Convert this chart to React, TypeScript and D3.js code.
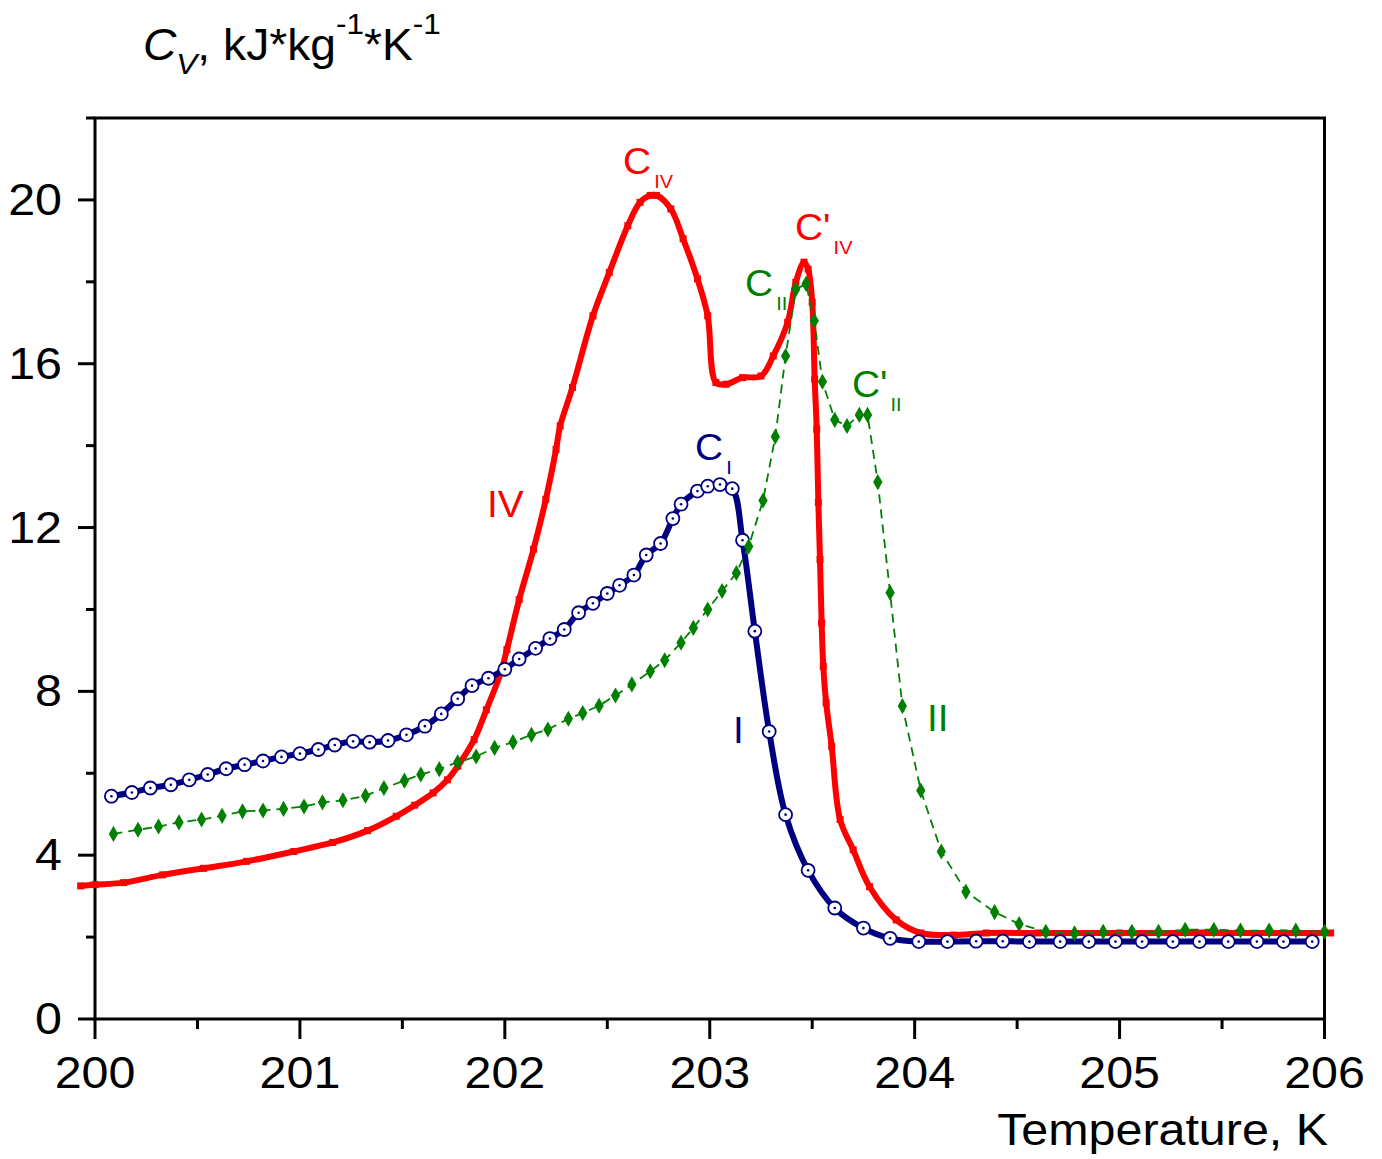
import React, { useEffect, useRef } from "react";
import * as d3 from "d3";

// Cv(T) curves, [temperature K, Cv kJ/(kg K)]
const seriesI: [number, number][] = [
  [200.08, 5.44], [200.18, 5.53], [200.27, 5.64], [200.37, 5.72], [200.46, 5.84], [200.55, 5.97],
  [200.64, 6.11], [200.73, 6.21], [200.82, 6.3], [200.91, 6.4], [201.0, 6.48], [201.09, 6.58],
  [201.17, 6.69], [201.26, 6.78], [201.34, 6.76], [201.43, 6.8], [201.52, 6.94], [201.61, 7.15],
  [201.69, 7.45], [201.77, 7.82], [201.84, 8.14], [201.92, 8.32], [202.0, 8.54], [202.07, 8.79],
  [202.15, 9.05], [202.22, 9.29], [202.29, 9.51], [202.36, 9.92], [202.43, 10.15], [202.5, 10.39],
  [202.56, 10.59], [202.63, 10.84], [202.69, 11.33], [202.76, 11.61], [202.82, 12.22], [202.86, 12.57],
  [202.94, 12.89], [202.99, 13.01], [203.05, 13.05], [203.11, 12.95], [203.16, 11.69], [203.22, 9.47],
  [203.29, 7.02], [203.37, 4.99], [203.48, 3.63], [203.61, 2.71], [203.75, 2.22], [203.88, 1.97],
  [204.02, 1.89], [204.16, 1.89], [204.3, 1.9], [204.43, 1.9], [204.56, 1.89], [204.71, 1.89],
  [204.85, 1.89], [204.98, 1.89], [205.11, 1.89], [205.26, 1.89], [205.39, 1.89], [205.53, 1.89],
  [205.67, 1.89], [205.8, 1.89], [205.94, 1.89],
];

const seriesIV: [number, number][] = [
  [199.93, 3.25], [200.0, 3.28], [200.14, 3.33], [200.33, 3.52], [200.53, 3.68], [200.74, 3.85],
  [200.97, 4.09], [201.16, 4.31], [201.33, 4.6], [201.47, 4.95], [201.56, 5.22], [201.65, 5.52],
  [201.72, 5.84], [201.77, 6.17], [201.85, 6.82], [201.91, 7.55], [201.98, 8.45], [202.01, 9.02],
  [202.07, 10.24], [202.14, 11.47], [202.2, 12.69], [202.25, 13.91], [202.27, 14.48], [202.33, 15.42],
  [202.43, 17.17], [202.51, 18.23], [202.6, 19.37], [202.66, 19.94], [202.71, 20.11], [202.74, 20.11],
  [202.81, 19.78], [202.87, 19.05], [202.94, 18.07], [202.99, 17.17], [203.03, 15.54], [203.08, 15.5],
  [203.16, 15.66], [203.25, 15.7], [203.31, 16.19], [203.38, 17.01], [203.42, 17.99], [203.46, 18.48],
  [203.48, 18.31], [203.5, 17.5], [203.512, 15.62], [203.522, 14.4], [203.53, 12.61], [203.538, 11.22],
  [203.546, 9.67], [203.554, 8.61], [203.568, 7.72], [203.595, 6.66], [203.636, 4.87], [203.7, 4.13],
  [203.78, 3.23], [203.91, 2.42], [204.03, 2.1], [204.19, 2.05], [204.35, 2.1], [204.6, 2.1],
  [205.0, 2.1], [205.4, 2.1], [205.8, 2.1], [206.03, 2.1],
];

const seriesII: [number, number][] = [
  [200.09, 4.52], [200.21, 4.62], [200.31, 4.7], [200.41, 4.8], [200.52, 4.87], [200.62, 4.96],
  [200.72, 5.07], [200.82, 5.09], [200.92, 5.13], [201.02, 5.19], [201.11, 5.29], [201.21, 5.34],
  [201.32, 5.45], [201.41, 5.64], [201.51, 5.82], [201.59, 5.97], [201.68, 6.1], [201.77, 6.27],
  [201.86, 6.41], [201.95, 6.62], [202.04, 6.76], [202.13, 6.94], [202.21, 7.07], [202.31, 7.33],
  [202.38, 7.47], [202.46, 7.65], [202.54, 7.9], [202.62, 8.17], [202.71, 8.49], [202.78, 8.76],
  [202.86, 9.19], [202.92, 9.55], [202.99, 10.0], [203.06, 10.45], [203.13, 10.89], [203.19, 11.54],
  [203.26, 12.66], [203.32, 14.22], [203.37, 16.19], [203.42, 17.82], [203.47, 17.95], [203.51, 17.05],
  [203.55, 15.56], [203.61, 14.63], [203.67, 14.48], [203.73, 14.75], [203.77, 14.75], [203.82, 13.11],
  [203.88, 10.41], [203.94, 7.64], [204.03, 5.58], [204.13, 4.09], [204.25, 3.11], [204.39, 2.61],
  [204.51, 2.32], [204.64, 2.13], [204.78, 2.09], [204.92, 2.13], [205.06, 2.13], [205.19, 2.13],
  [205.32, 2.18], [205.46, 2.18], [205.59, 2.16], [205.73, 2.16], [205.86, 2.16], [206.0, 2.13],
];

const xTicks = [200, 201, 202, 203, 204, 205, 206];
const yTicks = [0, 4, 8, 12, 16, 20];

// annotations: [main, subscript, T, Cv, colour]
const curveLabels: [string, string, number, number, string][] = [
  ["C", "IV", 202.577, 20.64, "#ff0000"],
  ["C'", "IV", 203.416, 19.02, "#ff0000"],
  ["C", "II", 203.172, 17.65, "#008000"],
  ["C'", "II", 203.694, 15.18, "#008000"],
  ["C", "I", 202.928, 13.64, "#000080"],
  ["IV", "", 201.913, 12.25, "#ff0000"],
  ["I", "", 203.114, 6.75, "#000080"],
  ["II", "", 204.06, 7.02, "#008000"],
];

const FONT = "'Liberation Sans', Arial, sans-serif";

export default function App() {
  const ref = useRef<SVGSVGElement>(null);

  useEffect(() => {
    const svg = d3.select(ref.current);
    svg.selectAll("*").remove();

    const x = d3.scaleLinear().domain([200, 206]).range([95, 1324.5]);
    const y = d3.scaleLinear().domain([0, 22]).range([1019, 118]);

    // frame
    svg.append("rect")
      .attr("x", x(200)).attr("y", y(22))
      .attr("width", x(206) - x(200)).attr("height", y(0) - y(22))
      .attr("fill", "none").attr("stroke", "#000").attr("stroke-width", 3);

    // x axis ticks
    const xAxis = svg.append("g");
    d3.range(200, 206.01, 0.5).forEach((t) => {
      const major = Math.abs(t - Math.round(t)) < 1e-6;
      xAxis.append("line")
        .attr("x1", x(t)).attr("x2", x(t))
        .attr("y1", y(0)).attr("y2", y(0) + (major ? 20 : 10))
        .attr("stroke", "#000").attr("stroke-width", 3);
    });
    xTicks.forEach((t) => {
      xAxis.append("g")
        .attr("transform", `translate(${x(t)},1088) scale(1.1,1)`)
        .append("text")
        .attr("text-anchor", "middle")
        .attr("font-family", FONT).attr("font-size", 44)
        .text(t);
    });

    // y axis ticks
    const yAxis = svg.append("g");
    d3.range(0, 22.01, 2).forEach((v) => {
      const major = v % 4 === 0;
      yAxis.append("line")
        .attr("x1", x(200) - (major ? 17 : 9)).attr("x2", x(200))
        .attr("y1", y(v)).attr("y2", y(v))
        .attr("stroke", "#000").attr("stroke-width", 3);
    });
    yTicks.forEach((v) => {
      yAxis.append("g")
        .attr("transform", `translate(62,${y(v) + 15}) scale(1.1,1)`)
        .append("text")
        .attr("text-anchor", "end")
        .attr("font-family", FONT).attr("font-size", 44)
        .text(v);
    });

    // axis titles
    svg.append("g")
      .attr("transform", "translate(1328,1145) scale(1.1,1)")
      .append("text")
      .attr("text-anchor", "end")
      .attr("font-family", FONT).attr("font-size", 44)
      .text("Temperature, K");

    const yt = svg.append("g")
      .attr("transform", "translate(143,60) scale(1.05,1)")
      .append("text")
      .attr("font-family", FONT).attr("font-size", 44);
    yt.append("tspan").attr("font-style", "italic").text("C");
    yt.append("tspan").attr("font-style", "italic").attr("font-size", 30).attr("dy", 14).text("V");
    yt.append("tspan").attr("dy", -14).text(", kJ*kg");
    yt.append("tspan").attr("font-size", 30).attr("dy", -26).text("-1");
    yt.append("tspan").attr("dy", 26).text("*K");
    yt.append("tspan").attr("font-size", 30).attr("dy", -26).text("-1");

    const smooth = d3.line<[number, number]>()
      .x((d) => x(d[0])).y((d) => y(d[1]))
      .curve(d3.curveCatmullRom.alpha(0.5));
    const straight = d3.line<[number, number]>()
      .x((d) => x(d[0])).y((d) => y(d[1]));

    // curve IV (red)
    svg.append("path").attr("d", smooth(seriesIV))
      .attr("fill", "none").attr("stroke", "#ff0000").attr("stroke-width", 6)
      .attr("stroke-linejoin", "round");
    svg.append("g").selectAll("rect").data(seriesIV).enter().append("rect")
      .attr("x", (d) => x(d[0]) - 3.5).attr("y", (d) => y(d[1]) - 3.5)
      .attr("width", 7).attr("height", 7).attr("fill", "#ff0000");

    // curve I (blue)
    svg.append("path").attr("d", smooth(seriesI))
      .attr("fill", "none").attr("stroke", "#000080").attr("stroke-width", 6)
      .attr("stroke-linejoin", "round");
    const pts = svg.append("g").selectAll("g").data(seriesI).enter().append("g")
      .attr("transform", (d) => `translate(${x(d[0])},${y(d[1])})`);
    pts.append("circle").attr("r", 6.5).attr("fill", "#fff")
      .attr("stroke", "#000080").attr("stroke-width", 1.8);
    pts.append("circle").attr("r", 1.3).attr("fill", "#000080");

    // curve II (green, dashed)
    svg.append("path").attr("d", straight(seriesII))
      .attr("fill", "none").attr("stroke", "#008000").attr("stroke-width", 1.8)
      .attr("stroke-dasharray", "9,6");
    const diamond = d3.symbol().type(d3.symbolDiamond).size(75);
    svg.append("g").selectAll("path").data(seriesII).enter().append("path")
      .attr("d", diamond())
      .attr("transform", (d) => `translate(${x(d[0])},${y(d[1])})`)
      .attr("fill", "#008000");

    // curve annotations
    curveLabels.forEach(([main, sub, t, v, color]) => {
      const txt = svg.append("g")
        .attr("transform", `translate(${x(t)},${y(v)}) scale(1.05,1)`)
        .append("text")
        .attr("font-family", FONT).attr("font-size", 37).attr("fill", color);
      txt.append("tspan").text(main);
      if (sub) {
        txt.append("tspan").attr("font-size", 19).attr("dx", 3).attr("dy", 14).text(sub);
      }
    });
  }, []);

  return (
    <svg
      ref={ref}
      width={1382}
      height={1159}
      style={{ position: "absolute", left: 0, top: 0, background: "#fff" }}
    />
  );
}
